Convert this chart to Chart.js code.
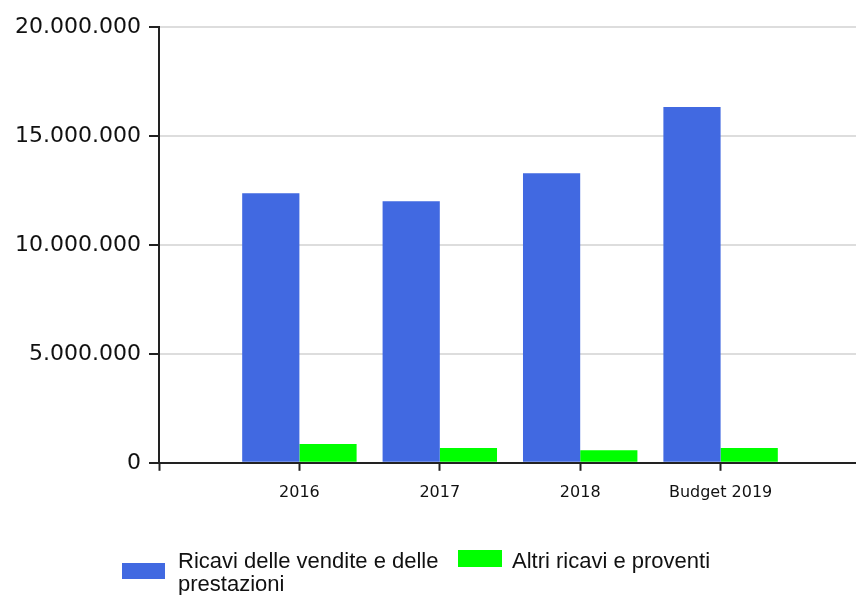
<!DOCTYPE html>
<html>
<head>
<meta charset="utf-8">
<script src="https://cdn.jsdelivr.net/npm/chart.js@4/dist/chart.umd.min.js"></script>
<style>
  html, body { margin: 0; padding: 0; background: #fff; overflow: hidden; }
  #wrap { position: relative; width: 856px; height: 595px; overflow: hidden; }
  #legend { position: absolute; left: 0; top: 0; width: 856px; height: 595px; pointer-events: none;
            font-family: "Liberation Sans", Arial, sans-serif; font-size: 22px; line-height: 23px; color: #111; }
  .box { position: absolute; }
  .txt { position: absolute; }
</style>
</head>
<body>
<div id="wrap">
  <canvas id="myChart" width="861" height="595"></canvas>
  <div id="legend"></div>
</div>
<script>
const categories = ['', '2016', '2017', '2018', 'Budget 2019', '']
const ricavi = [null, 12370000, 12000000, 13290000, 16330000, null]
const altri = [null, 860000, 680000, 580000, 680000, null]
const yTicks = [0, 5000000, 10000000, 15000000, 20000000]

const seriesNames = ['Ricavi delle vendite e delle prestazioni', 'Altri ricavi e proventi']
const seriesColors = ['#4169E1', '#00FF00']

function formatIt(v) {
  return String(v).replace(/\B(?=(\d{3})+(?!\d))/g, '.')
}

var ctx = document.getElementById('myChart')
var myBarChart = new Chart(ctx, {
  type: 'bar',
  data: {
    labels: categories,
    datasets: [
      { label: seriesNames[0], data: ricavi, backgroundColor: seriesColors[0] },
      { label: seriesNames[1], data: altri, backgroundColor: seriesColors[1] }
    ]
  },
  options: {
    responsive: false,
    animation: false,
    layout: { padding: { top: 27, right: 0, bottom: 81, left: 0 } },
    datasets: { bar: { categoryPercentage: 0.815, barPercentage: 1, borderWidth: 0 } },
    plugins: {
      legend: { display: false },
      tooltip: { enabled: false },
      title: { display: false }
    },
    scales: {
      x: {
        type: 'category',
        offset: false,
        afterFit: scale => { scale.paddingLeft = 0; scale.paddingRight = 0 },
        grid: { offset: false, drawOnChartArea: false, tickLength: 8, tickColor: '#222', tickWidth: 2 },
        border: { color: '#222', width: 2 },
        ticks: {
          autoSkip: false,
          maxRotation: 0,
          padding: 12,
          color: '#111',
          font: { family: 'DejaVu Sans', size: 16 }
        }
      },
      y: {
        min: 0,
        max: 20000000,
        afterBuildTicks: scale => { scale.ticks = yTicks.map(v => ({ value: v })) },
        afterFit: scale => { scale.width = 159; scale.paddingTop = 0; scale.paddingBottom = 0 },
        grid: { color: '#dddddd', lineWidth: 2, tickLength: 10, tickColor: '#222', tickWidth: 2 },
        border: { color: '#222', width: 2 },
        ticks: {
          padding: 8,
          color: '#111',
          font: { family: 'DejaVu Sans', size: 22 },
          callback: v => formatIt(v)
        }
      }
    }
  }
})

// legend below the plot, built from the dataset labels
const legendItems = [
  { box: [122, 563, 43, 16], txt: [178, 549, 270] },
  { box: [458, 550, 44, 17], txt: [512, 549, 330] }
]
const legendEl = document.getElementById('legend')
myBarChart.data.datasets.forEach((ds, i) => {
  const it = legendItems[i]
  const b = document.createElement('div')
  b.className = 'box'
  b.style.left = it.box[0] + 'px'
  b.style.top = it.box[1] + 'px'
  b.style.width = it.box[2] + 'px'
  b.style.height = it.box[3] + 'px'
  b.style.background = ds.backgroundColor
  legendEl.appendChild(b)
  const t = document.createElement('div')
  t.className = 'txt'
  t.style.left = it.txt[0] + 'px'
  t.style.top = it.txt[1] + 'px'
  t.style.width = it.txt[2] + 'px'
  t.textContent = ds.label
  legendEl.appendChild(t)
})
</script>
</body>
</html>
